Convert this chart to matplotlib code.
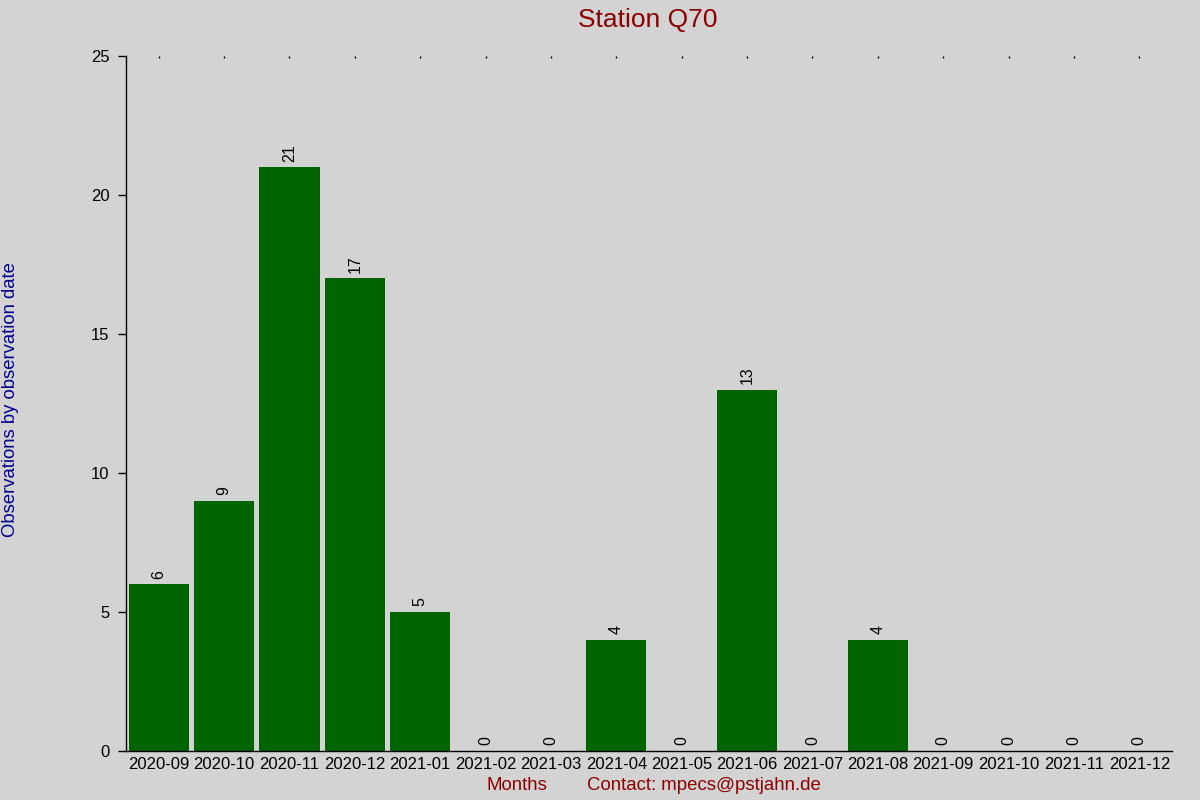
import matplotlib
matplotlib.use("Agg")
import matplotlib.pyplot as plt

months = ["2020-09", "2020-10", "2020-11", "2020-12", "2021-01", "2021-02",
          "2021-03", "2021-04", "2021-05", "2021-06", "2021-07", "2021-08",
          "2021-09", "2021-10", "2021-11", "2021-12"]
counts = [6, 9, 21, 17, 5, 0, 0, 4, 0, 13, 0, 4, 0, 0, 0, 0]
y_ticks = [0, 5, 10, 15, 20, 25]

plt.rcParams['font.family'] = ['Liberation Sans', 'DejaVu Sans']
bg = '#d3d3d3'
fig = plt.figure(figsize=(12, 8), dpi=100, facecolor=bg)
ax = fig.add_axes([0.105, 0.06125, 0.8717, 0.86875])
ax.set_facecolor(bg)

x = list(range(len(months)))
ax.bar(x, counts, width=0.92, color='#006400')
for xi, v in zip(x, counts):
    ax.annotate(str(v), (xi, v), xytext=(0, 4), textcoords='offset points',
                rotation=90, ha='center', va='bottom', fontsize=11.5, color='black')

ax.set_xlim(-0.5, len(months) - 0.5)
ax.set_ylim(0, 25)
ax.set_yticks(y_ticks)
ax.set_xticks(x)
ax.set_xticklabels(months)
ax.tick_params(axis='y', direction='out', length=6, width=1, labelsize=12, pad=6)
ax.tick_params(axis='x', bottom=False, top=True, direction='in', length=1.2,
               width=1, labelsize=12, pad=4)
for s in ['top', 'right']:
    ax.spines[s].set_visible(False)
for s in ['left', 'bottom']:
    ax.spines[s].set_linewidth(1)
    ax.spines[s].set_color('black')

fig.text(0.54, 0.975, "Station Q70", ha='center', va='center', fontsize=19, color='#8b0000')
fig.text(0.009, 0.5, "Observations by observation date", rotation=90, ha='center',
         va='center', fontsize=13.3, color='#00008b')
fig.text(0.431, 0.018, "Months", ha='center', va='center', fontsize=13.4, color='#8b0000')
fig.text(0.587, 0.018, "Contact: mpecs@pstjahn.de", ha='center', va='center', fontsize=13.4,
         color='#8b0000')

fig.savefig("out.png", dpi=100, facecolor=bg)
